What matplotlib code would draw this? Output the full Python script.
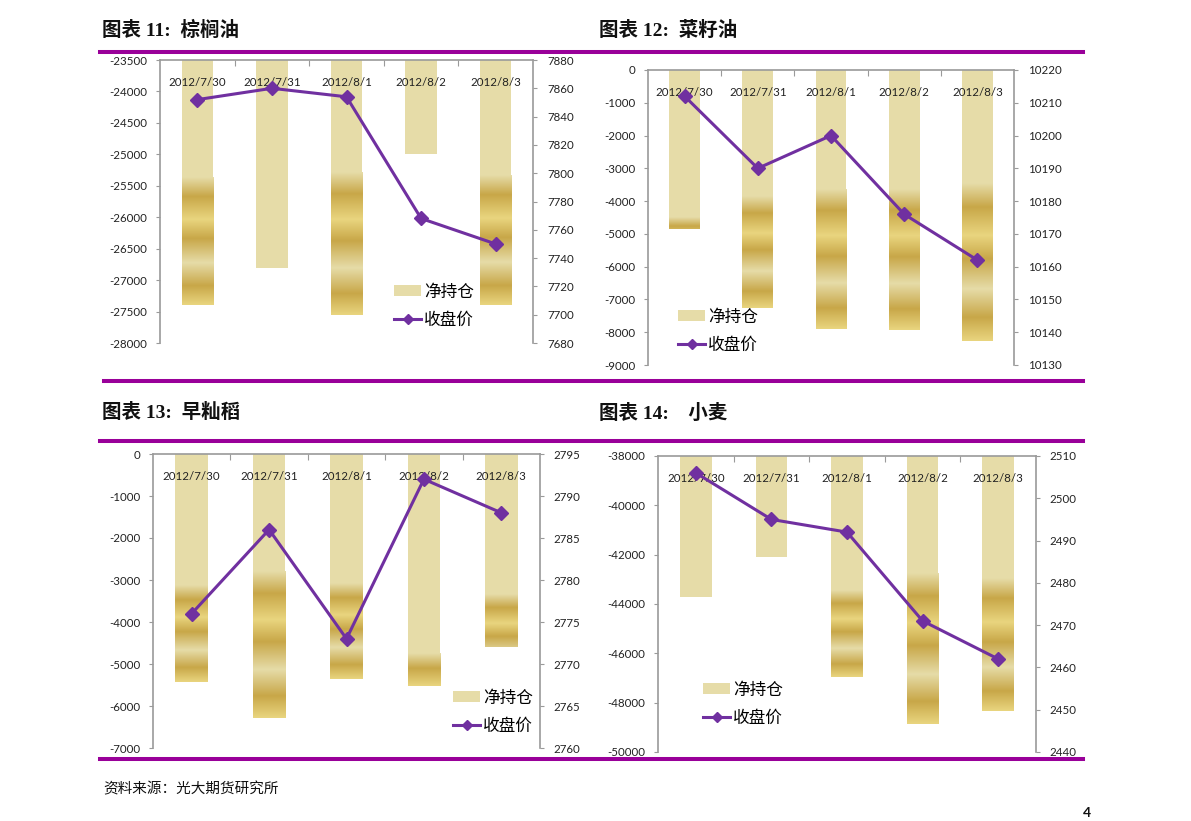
import numpy as np
import matplotlib
matplotlib.use('Agg')
import matplotlib.pyplot as plt
from matplotlib.colors import LinearSegmentedColormap
from matplotlib.patches import Patch
from matplotlib.lines import Line2D

plt.rcParams['font.family'] = ['Lato', 'Noto Sans CJK SC', 'DejaVu Sans']
plt.rcParams['axes.unicode_minus'] = False

W, H = 1191, 821

# 数据
dates = ['2012/7/30', '2012/7/31', '2012/8/1', '2012/8/2', '2012/8/3']

palm_net = [-27390, -26800, -27550, -25000, -27400]
palm_close = [7852, 7860, 7854, 7768, 7750]

rapeseed_net = [-4860, -7250, -7890, -7920, -8260]
rapeseed_close = [10212, 10190, 10200, 10176, 10162]

rice_net = [-5430, -6280, -5350, -5520, -4590]
rice_close = [2776, 2786, 2773, 2792, 2788]

wheat_net = [-43700, -42100, -46950, -48870, -48340]
wheat_close = [2506, 2495, 2492, 2471, 2462]

PALE = '#E6DCA8'
DARK = '#C8A748'
LIGHT = '#E9D57F'
LINE_C = '#7030A0'
RULE_C = '#990099'
SPINE_C = '#9A9A9A'

gold = LinearSegmentedColormap.from_list('gold', [
    (0.0, PALE), (0.15, DARK), (0.33, LIGHT), (0.48, DARK),
    (0.67, PALE), (0.85, DARK), (1.0, LIGHT)])


def px_rect(left, top, right, bottom):
    return [left / W, 1 - bottom / H, (right - left) / W, (bottom - top) / H]


def draw_panel(fig, rect, title, title_xy, net, close, llim, lstep, rlim, rstep,
               bands, legend_xy):
    ax = fig.add_axes(rect)
    x = np.arange(len(dates))
    top = llim[1]
    bars = ax.bar(x, np.array(net) - top, bottom=top, width=0.42,
                  color=PALE, zorder=1)

    # 渐变金色条纹 (起始位置, 图案截止)
    for b, v, band in zip(bars, net, bands):
        if band is None:
            continue
        f, end = band
        grad = np.linspace(0, end, 256).reshape(-1, 1)
        y0 = top + (v - top) * f
        ax.imshow(grad, cmap=gold, vmin=0, vmax=1, aspect='auto',
                  interpolation='bilinear',
                  extent=(b.get_x(), b.get_x() + b.get_width(), v, y0),
                  origin='upper', zorder=1.5)

    ax.set_xlim(-0.5, len(dates) - 0.5)
    ax.set_ylim(*llim)
    ax.set_yticks(np.arange(llim[0], llim[1] + 1, lstep))
    ax.set_yticklabels([str(int(t)) for t in ax.get_yticks()])
    ax.xaxis.tick_top()
    ax.set_xticks(x[:-1] + 0.5)
    ax.set_xticklabels([])
    ax.tick_params(axis='x', direction='in', length=4, color=SPINE_C)
    ax.tick_params(axis='y', direction='out', length=3, pad=6, color=SPINE_C,
                   labelsize=8.3, labelcolor='#222222')
    for s in ['right', 'bottom']:
        ax.spines[s].set_visible(False)
    for s in ['left', 'top']:
        ax.spines[s].set_color(SPINE_C)
        ax.spines[s].set_linewidth(1.2)

    for i, d in enumerate(dates):
        ax.annotate(d, (i, 1), xycoords=('data', 'axes fraction'),
                    xytext=(0, -16), textcoords='offset points',
                    ha='center', va='center', fontsize=8.3, color='#222222')

    ax2 = ax.twinx()
    ax2.plot(x, close, color=LINE_C, lw=2.2, marker='D', ms=7.5,
             mfc=LINE_C, mec=LINE_C, zorder=3)
    ax2.set_ylim(*rlim)
    ax2.set_yticks(np.arange(rlim[0], rlim[1] + 1, rstep))
    ax2.set_yticklabels([str(int(t)) for t in ax2.get_yticks()])
    ax2.tick_params(axis='y', direction='out', length=3, pad=7, color=SPINE_C,
                    labelsize=8.3, labelcolor='#222222')
    for s in ['left', 'top', 'bottom']:
        ax2.spines[s].set_visible(False)
    ax2.spines['right'].set_color(SPINE_C)
    ax2.spines['right'].set_linewidth(1.2)

    handles = [Patch(facecolor=PALE, edgecolor='none'),
               Line2D([], [], color=LINE_C, lw=2.2, marker='D', ms=5,
                      mfc=LINE_C, mec=LINE_C)]
    ax2.legend(handles, ['净持仓', '收盘价'], loc='center left',
               bbox_to_anchor=(legend_xy[0] / W, 1 - legend_xy[1] / H),
               bbox_transform=fig.transFigure, frameon=False, borderpad=0,
               handlelength=1.6, handleheight=0.6, handletextpad=0.2,
               labelspacing=0.65,
               prop={'family': ['Noto Sans CJK SC'], 'size': 12})

    fig.text(title_xy[0] / W, 1 - title_xy[1] / H, title, ha='left', va='center',
             fontsize=14, fontweight='bold', color='#111111',
             family=['Liberation Serif', 'Noto Sans CJK SC'])
    return ax, ax2


fig = plt.figure(figsize=(W / 100, H / 100), dpi=100)

draw_panel(fig, px_rect(160, 60, 533, 343), '图表 11:  棕榈油', (102, 30),
           palm_net, palm_close, (-28000, -23500), 500, (7680, 7880), 20,
           [(0.48, 1), None, (0.44, 1), None, (0.47, 1)], (386, 306))
draw_panel(fig, px_rect(648, 70, 1014, 365), '图表 12:  菜籽油', (599, 30),
           rapeseed_net, rapeseed_close, (-9000, 0), 1000, (10130, 10220), 10,
           [(0.93, 0.2), (0.53, 1), (0.46, 1), (0.46, 1), (0.42, 1)], (670, 331))
draw_panel(fig, px_rect(153, 454, 540, 748), '图表 13:  早籼稻', (102, 413),
           rice_net, rice_close, (-7000, 0), 1000, (2760, 2795), 5,
           [(0.575, 1), (0.446, 1), (0.575, 1), (0.86, 0.33), (0.73, 0.6)],
           (445, 712))
draw_panel(fig, px_rect(658, 456, 1036, 752), '图表 14:    小麦', (599, 413),
           wheat_net, wheat_close, (-50000, -38000), 2000, (2440, 2510), 10,
           [None, None, (0.61, 1), (0.44, 1), (0.48, 1)], (695, 704))

# 紫色分隔线
for (x0, x1, y) in [(100, 1083, 52), (104, 1083, 381), (100, 1083, 441),
                    (100, 1083, 759)]:
    fig.add_artist(Line2D([x0 / W, x1 / W], [1 - y / H, 1 - y / H],
                          transform=fig.transFigure, color=RULE_C, lw=2.9))

fig.text(103 / W, 1 - 789 / H, '资料来源：光大期货研究所', ha='left', va='center',
         fontsize=10.5, color='#111111', family=['Noto Sans CJK SC'])
fig.text(1083 / W, 1 - 819 / H, '4', ha='left', va='bottom', fontsize=10,
         fontweight='bold', color='#111111')

fig.savefig('out.png', dpi=100)
